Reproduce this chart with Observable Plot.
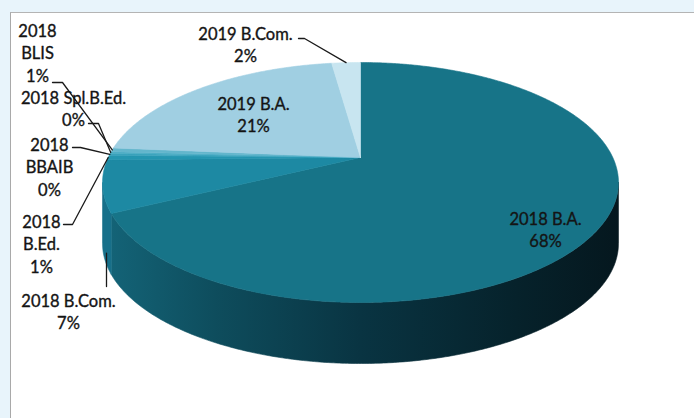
<!DOCTYPE html>
<html><head><meta charset="utf-8">
<script src="https://cdn.jsdelivr.net/npm/d3@7"></script>
<script src="https://cdn.jsdelivr.net/npm/@observablehq/plot@0.6"></script>
<style>
html,body{margin:0;padding:0;background:#e8f4fb;}
#wrap{position:relative;width:694px;height:418px;overflow:hidden;background:#e8f4fb;}
#panel{position:absolute;left:10px;top:12px;width:700px;height:430px;background:#fff;border-top:1px solid #b4b4b4;border-left:1px solid #a9a9a9;}
#chart{position:absolute;left:0;top:0;}
</style></head><body>
<div id="wrap"><div id="panel"></div><div id="chart"></div></div>
<script>
// ---- data ----
const categories = ["2018 B.A.","2018 B.Com.","2018 B.Ed.","2018 BBAIB","2018 Spl.B.Ed.","2018 BLIS","2019 B.A.","2019 B.Com."];
const shares = [67.7, 7.0, 0.6, 0.3, 0.2, 0.55, 21.45, 2.2];
const percentLabels = ["68%","7%","1%","0%","0%","1%","21%","2%"];
const labelNames = ["2018 B.A.","2018 B.Com.","2018\nB.Ed.","2018\nBBAIB","2018 Spl.B.Ed.","2018\nBLIS","2019 B.A.","2019 B.Com."];

// ---- styles / layout ----
const topColors  = ["#177488","#1d89a3","#2596b0","#3aa3bc","#4aacc4","#63b6cc","#a0cfe2","#c8e5f0"];
const sideColors = ["url(#baSide)","#17708a","#1f7f98","#2a8aa2","#3290a8","#3a96ad","#7fb8cc","#a9d2e0"];
// label block: [centre x, centre y of first line]
const labelPos = [[545,217],[68,299],[41,220],[49,143],[73,96],[37,29],[253,102],[245,32]];
// leader elbow points (null = no leader); last point is computed on the pie rim
const leaderPts = [null, [[106,286]], [[63,224],[72,224]], [[72,147],[80,147]], [[88,123],[98,123]], [[52,82],[62,82]], null, [[298,38],[304,38]]];

const W = 694, H = 418;
const CX = 360, K = 0.2083, A = 252.3, B = 82.1, C = 157, DEPTH = 61;
const LINE = 22.5, FS = 16.5;

function proj(t, dz = 0) {
  const u = Math.sin(t), v = -Math.cos(t), den = 1 - K * v;
  return [CX + A * u / den, (B * v + C) / den + dz];
}
function arcPts(a0, a1, dz) {
  const n = Math.max(2, Math.ceil((a1 - a0) / (Math.PI / 360)));
  return d3.range(n + 1).map(j => proj(a0 + (a1 - a0) * j / n, dz));
}

const arcs = d3.pie().sort(null).value(d => d)(shares)
  .map((p, i) => ({i, key: categories[i], a0: p.startAngle, a1: p.endAngle, mid: (p.startAngle + p.endAngle) / 2}));

const lo = Math.PI / 2 + Math.asin(K), hi = 3 * Math.PI / 2 - Math.asin(K);

const marks = [];
// shadow under the side
{
  const top = arcPts(lo, hi, DEPTH - 6), bot = arcPts(lo, hi, DEPTH + 4).reverse();
  const rows = [...top, ...bot, top[0]].map(([x, y]) => ({x, y}));
  marks.push(Plot.line(rows, {x: "x", y: "y", fill: "#8a8a8a", fillOpacity: 0.5, stroke: "none", ariaLabel: "shadow"}));
}
// sides
arcs.forEach(s => {
  const s0 = Math.max(s.a0, lo), s1 = Math.min(s.a1, hi);
  if (s1 <= s0) return;
  const top = arcPts(s0, s1, 0), bot = arcPts(s0, s1, DEPTH).reverse();
  const rows = [...top, ...bot, top[0]].map(([x, y]) => ({x, y}));
  marks.push(Plot.line(rows, {x: "x", y: "y", fill: sideColors[s.i], stroke: sideColors[s.i], strokeWidth: 0.6}));
});
// tops
arcs.forEach(s => {
  const pts = [[CX, C], ...arcPts(s.a0, s.a1, 0), [CX, C]];
  const rows = pts.map(([x, y]) => ({x, y}));
  marks.push(Plot.line(rows, {x: "x", y: "y", fill: topColors[s.i], stroke: topColors[s.i], strokeWidth: 0.6}));
});
// leaders
const leaderRows = [];
arcs.forEach(s => {
  const lp = leaderPts[s.i];
  if (!lp) return;
  let end = s.i === 1 ? proj(s.mid, DEPTH + 6) : proj(s.mid, 0);
  if (s.i === 1) end = [lp[0][0], end[1]];
  [...lp, end].forEach(([x, y]) => leaderRows.push({key: s.key, x, y}));
});
marks.push(Plot.line(leaderRows, {x: "x", y: "y", z: "key", stroke: "#1a1a1a", strokeWidth: 1.3}));
// labels
const labelRows = arcs.map(s => {
  const text = labelNames[s.i] + "\n" + percentLabels[s.i];
  const n = text.split("\n").length;
  return {x: labelPos[s.i][0], y: labelPos[s.i][1] + (n - 1) * LINE / 2, text};
});
marks.push(Plot.text(labelRows, {x: "x", y: "y", text: "text", textAnchor: "middle", lineAnchor: "middle", lineHeight: LINE / FS, fontSize: FS, fill: "#141414", stroke: "#141414", strokeWidth: 0.35}));

const plot = Plot.plot({
  width: W, height: H, margin: 0,
  x: {domain: [0, W], range: [0, W], axis: null},
  y: {domain: [0, H], range: [0, H], axis: null},
  style: {background: "transparent", fontFamily: "Lato, 'Open Sans', sans-serif"},
  marks
});
const ns = "http://www.w3.org/2000/svg";
const defs = document.createElementNS(ns, "defs");
defs.innerHTML = `
<linearGradient id="baSide" gradientUnits="userSpaceOnUse" x1="100" y1="0" x2="620" y2="0">
  <stop offset="0" stop-color="#146579"/>
  <stop offset="0.22" stop-color="#0e4d5d"/>
  <stop offset="0.5" stop-color="#093442"/>
  <stop offset="0.8" stop-color="#06222b"/>
  <stop offset="1" stop-color="#05171e"/>
</linearGradient>
<filter id="blur" x="-10%" y="-50%" width="120%" height="200%"><feGaussianBlur stdDeviation="3"/></filter>`;
plot.insertBefore(defs, plot.firstChild);
const sh = plot.querySelector('g[aria-label="shadow"]');
if (sh) sh.setAttribute("filter", "url(#blur)");
document.getElementById("chart").appendChild(plot);
</script>
</body></html>
